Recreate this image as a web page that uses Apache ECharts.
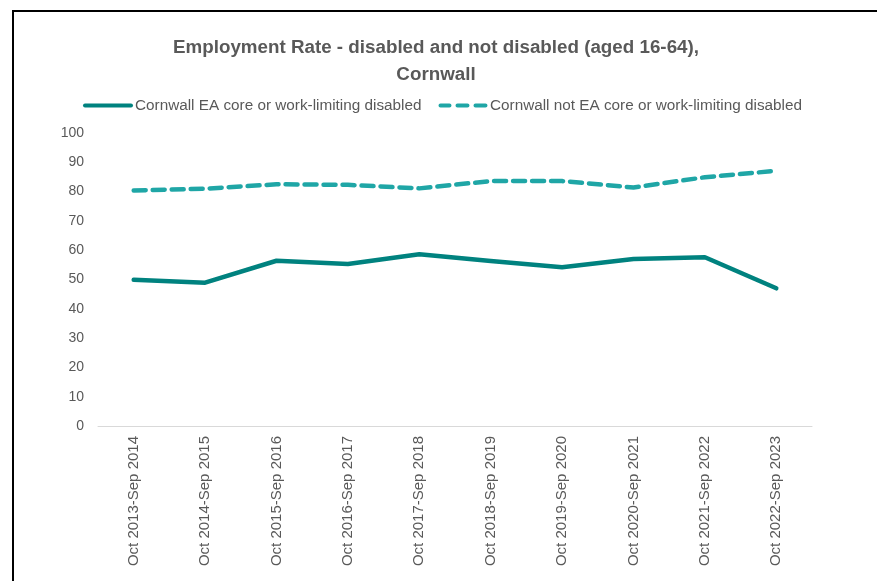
<!DOCTYPE html>
<html>
<head>
<meta charset="utf-8">
<script src="https://cdn.jsdelivr.net/npm/echarts@6/dist/echarts.min.js"></script>
<style>
  html, body { margin: 0; padding: 0; background: #fff; }
  #chart { position: absolute; left: 0; top: 0; width: 877px; height: 581px; }
  #frame { position: absolute; left: 12px; top: 10px; width: 870px; height: 580px;
           border-left: 2px solid #000; border-top: 2px solid #000; pointer-events: none; }
</style>
</head>
<body>
<div id="chart"></div>
<div id="frame"></div>
<script>
// Twelve-month rolling periods
const periods = [
  'Oct 2013-Sep 2014', 'Oct 2014-Sep 2015', 'Oct 2015-Sep 2016', 'Oct 2016-Sep 2017',
  'Oct 2017-Sep 2018', 'Oct 2018-Sep 2019', 'Oct 2019-Sep 2020', 'Oct 2020-Sep 2021',
  'Oct 2021-Sep 2022', 'Oct 2022-Sep 2023'
];
// Employment rate (%) by disability status
const disabled    = [49.9, 48.9, 56.4, 55.3, 58.6, 56.3, 54.2, 57.0, 57.6, 47.0];
const notDisabled = [80.4, 81.0, 82.5, 82.3, 81.1, 83.6, 83.6, 81.4, 84.9, 87.1];
const seriesNames = [
  'Cornwall EA core or work-limiting disabled',
  'Cornwall not EA core or work-limiting disabled'
];
const yTicks = { min: 0, max: 100, interval: 10 };

const textColor = '#595959';
const font = 'Liberation Sans, Arial, sans-serif';
const solidColor = '#00827f';
const dashColor = '#1fa6a6';

// Legend keys: a solid bar and a three-dash bar
const solidIcon = 'path://M2,0h46a2,2 0 0 1 0,4h-46a2,2 0 0 1 0,-4z';
const dashIcon = 'path://M2,0h9a2,2 0 0 1 0,4h-9a2,2 0 0 1 0,-4z' +
                 'M19,0h10a2,2 0 0 1 0,4h-10a2,2 0 0 1 0,-4z' +
                 'M37,0h10a2,2 0 0 1 0,4h-10a2,2 0 0 1 0,-4z';

const chart = echarts.init(document.getElementById('chart'), null, { renderer: 'canvas' });
chart.setOption({
  backgroundColor: '#ffffff',
  animation: false,
  title: {
    text: 'Employment Rate - disabled and not disabled (aged 16-64),\nCornwall',
    left: 431,
    textAlign: 'center',
    top: 29,
    textStyle: { fontFamily: font, fontSize: 18.8, fontWeight: 'bold', color: textColor, lineHeight: 27 }
  },
  legend: {
    top: 98,
    left: 83,
    padding: 0,
    itemWidth: 50,
    itemHeight: 4,
    itemGap: 17,
    textStyle: { fontFamily: font, fontSize: 15.3, color: textColor, padding: [0, 0, 0, -3] },
    data: [
      { name: seriesNames[0], icon: solidIcon },
      { name: seriesNames[1], icon: dashIcon }
    ]
  },
  grid: { left: 98, right: 65, top: 133, bottom: 155, containLabel: false },
  xAxis: {
    type: 'category',
    data: periods,
    boundaryGap: true,
    axisLine: { lineStyle: { color: '#d9d9d9', width: 1 } },
    axisTick: { show: false },
    axisLabel: { rotate: 90, margin: 10, fontFamily: font, fontSize: 15, color: textColor }
  },
  yAxis: {
    type: 'value',
    min: yTicks.min,
    max: yTicks.max,
    interval: yTicks.interval,
    axisLine: { show: false },
    axisTick: { show: false },
    splitLine: { show: false },
    axisLabel: { margin: 14, fontFamily: font, fontSize: 14, color: textColor }
  },
  series: [
    {
      name: seriesNames[0],
      type: 'line',
      data: disabled,
      symbol: 'none',
      color: solidColor,
      lineStyle: { color: solidColor, width: 4.5, cap: 'round', join: 'round' }
    },
    {
      name: seriesNames[1],
      type: 'line',
      data: notDisabled,
      symbol: 'none',
      color: dashColor,
      lineStyle: { color: dashColor, width: 4.5, type: [12, 7], cap: 'round', join: 'round' }
    }
  ]
});
</script>
</body>
</html>
